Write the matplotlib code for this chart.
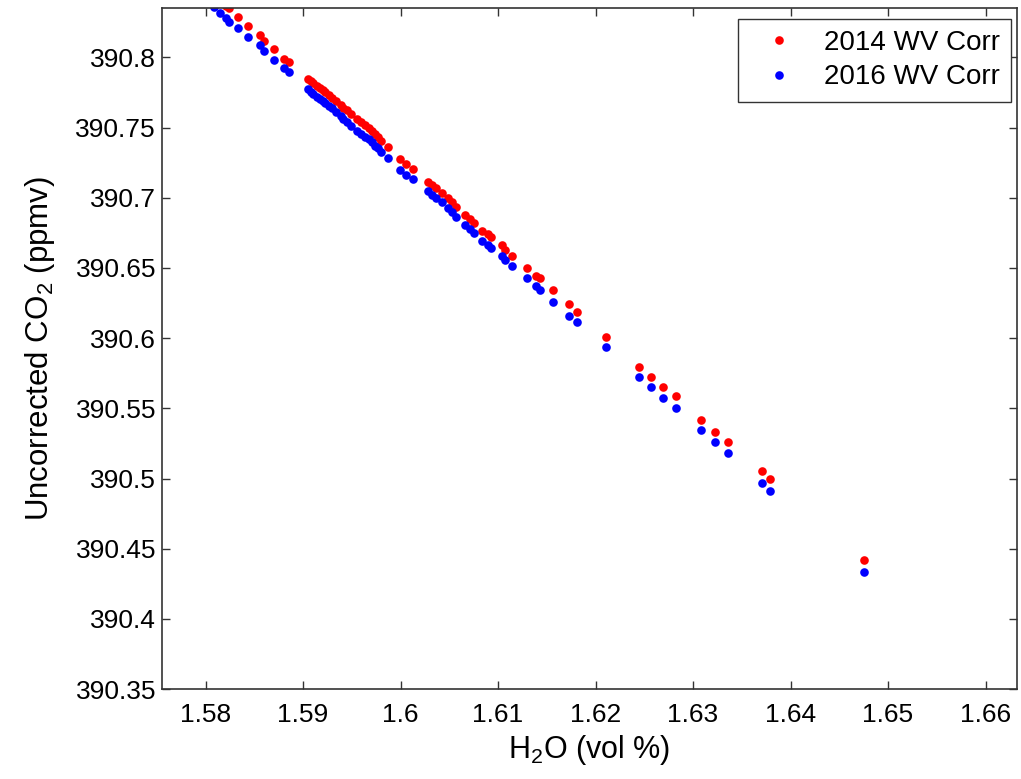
import numpy as np
import matplotlib.pyplot as plt

plt.rcParams['font.family'] = ['Liberation Sans', 'DejaVu Sans']
plt.rcParams['mathtext.fontset'] = 'custom'
plt.rcParams['mathtext.rm'] = 'Liberation Sans'

# H2O (vol %) for each sample
h2o = np.array([
    1.58087, 1.58149, 1.58215, 1.58241, 1.58333, 1.58433, 1.58554, 1.58600,
    1.58706, 1.58808, 1.58853,
    1.59054, 1.59082, 1.59106, 1.59144, 1.59174, 1.59205, 1.59226, 1.59262,
    1.59294, 1.59338, 1.59390, 1.59415, 1.59448, 1.59492, 1.59551, 1.59595,
    1.59636, 1.59672, 1.59705, 1.59738, 1.59772, 1.59795, 1.59869,
    1.59995, 1.60056, 1.60131,
    1.60279, 1.60318, 1.60369, 1.60421, 1.60482, 1.60523, 1.60574, 1.60662,
    1.60713, 1.60757, 1.60833, 1.60901, 1.60933, 1.61041, 1.61072, 1.61141,
    1.61301, 1.61390, 1.61426, 1.61564, 1.61723, 1.61807, 1.62111, 1.62451,
    1.62572, 1.62695, 1.62821, 1.63082, 1.63226, 1.63362, 1.63705, 1.63790,
    1.64757])

# uncorrected CO2 (ppmv) using 2014 water vapour correction
co2_2014 = np.array([
    390.8437, 390.8394, 390.8365, 390.8348, 390.8285, 390.8223, 390.8159, 390.8118,
    390.8057, 390.7986, 390.7969,
    390.7845, 390.7831, 390.7815, 390.7796, 390.7779, 390.7764, 390.7755, 390.7731,
    390.7712, 390.7689, 390.7660, 390.7642, 390.7625, 390.7596, 390.7561, 390.7539,
    390.7518, 390.7496, 390.7475, 390.7454, 390.7434, 390.7404, 390.7361,
    390.7274, 390.7240, 390.7202,
    390.7114, 390.7090, 390.7067, 390.7031, 390.6996, 390.6972, 390.6936, 390.6877,
    390.6852, 390.6821, 390.6766, 390.6741, 390.6717, 390.6660, 390.6627, 390.6585,
    390.6497, 390.6442, 390.6426, 390.6343, 390.6243, 390.6188, 390.6006, 390.5796,
    390.5725, 390.5654, 390.5588, 390.5417, 390.5333, 390.5262, 390.5053, 390.4996,
    390.4420])

# same samples with the 2016 correction
co2_2016 = np.array([
    390.8360, 390.8318, 390.8278, 390.8254, 390.8207, 390.8147, 390.8088, 390.8047,
    390.7981, 390.7926, 390.7897,
    390.7774, 390.7756, 390.7742, 390.7721, 390.7703, 390.7689, 390.7678, 390.7657,
    390.7637, 390.7610, 390.7582, 390.7564, 390.7541, 390.7514, 390.7475, 390.7457,
    390.7434, 390.7415, 390.7395, 390.7372, 390.7352, 390.7323, 390.7283,
    390.7197, 390.7162, 390.7131,
    390.7048, 390.7019, 390.6996, 390.6967, 390.6929, 390.6896, 390.6861, 390.6806,
    390.6774, 390.6749, 390.6695, 390.6663, 390.6645, 390.6585, 390.6556, 390.6517,
    390.6426, 390.6371, 390.6343, 390.6259, 390.6157, 390.6117, 390.5934, 390.5725,
    390.5654, 390.5571, 390.5500, 390.5345, 390.5262, 390.5180, 390.4970, 390.4913,
    390.4336])

x_ticks = [1.58, 1.59, 1.60, 1.61, 1.62, 1.63, 1.64, 1.65, 1.66]
x_ticklabels = ['1.58', '1.59', '1.6', '1.61', '1.62', '1.63', '1.64', '1.65', '1.66']
y_ticks = [390.35, 390.4, 390.45, 390.5, 390.55, 390.6, 390.65, 390.7, 390.75, 390.8]
y_ticklabels = ['390.35', '390.4', '390.45', '390.5', '390.55', '390.6', '390.65',
                '390.7', '390.75', '390.8']

fig = plt.figure(figsize=(10.21, 7.79), dpi=100)
ax = fig.add_axes([0.1583, 0.1154, 0.8378, 0.8737])

ax.plot(h2o, co2_2014, 'o', color='#ff0000', ms=6.2, mew=0, label='2014 WV Corr')
ax.plot(h2o, co2_2016, 'o', color='#0000ff', ms=6.2, mew=0, label='2016 WV Corr')

ax.set_xlim(1.5755, 1.66323)
ax.set_ylim(390.35, 390.8348)
ax.set_xticks(x_ticks)
ax.set_xticklabels(x_ticklabels)
ax.set_yticks(y_ticks)
ax.set_yticklabels(y_ticklabels)

ax.tick_params(direction='in', top=True, right=True, length=6, width=1.0,
               color='0.2', labelsize=19)
ax.tick_params(axis='x', pad=10)
ax.tick_params(axis='y', pad=4)
for s in ax.spines.values():
    s.set_linewidth(1.2)
    s.set_color('0.2')

ax.set_xlabel(r'H$_\mathregular{2}$O (vol %)', fontsize=22, labelpad=4)
ax.set_ylabel(r'Uncorrected CO$_\mathregular{2}$ (ppmv)', fontsize=22.5, labelpad=13)

leg = ax.legend(loc='upper right', bbox_to_anchor=(1011 / 1021, 1 - 19 / 779),
                bbox_transform=fig.transFigure, borderaxespad=0, fontsize=20,
                numpoints=1, handlelength=2.2, handletextpad=0.5,
                borderpad=0.4, labelspacing=0.3, fancybox=False, framealpha=1)
leg.get_frame().set_edgecolor('0.2')
leg.get_frame().set_linewidth(1.0)

fig.savefig('out.png', dpi=100)
